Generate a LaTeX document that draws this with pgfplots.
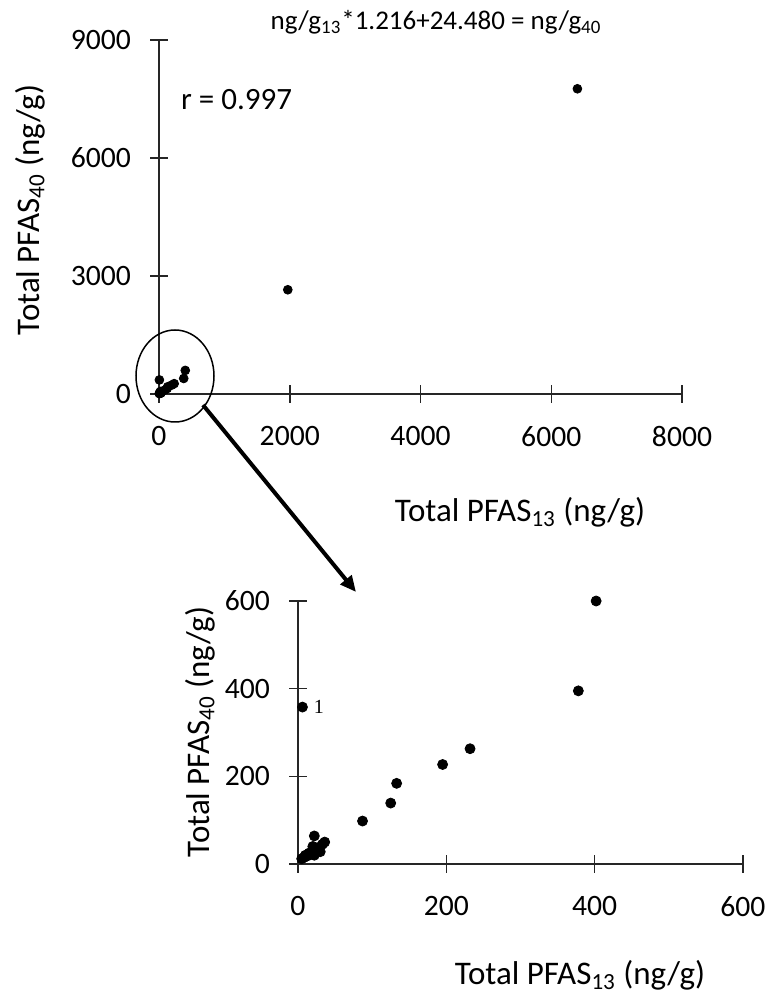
\documentclass[border=0pt]{standalone}
\usepackage{fontspec}
\setmainfont{Carlito}
\newfontfamily\serif{Liberation Serif}
\usepackage{pgfplots}
\pgfplotsset{compat=1.18}
\usetikzlibrary{arrows.meta}

% 1 px of the reference = 0.5pt
\pgfplotsset{
  sc/.style={
    scale only axis, clip=false, enlargelimits=false,
    axis lines=left,
    axis line style={-, draw=black!85, line width=0.75pt},
    tick align=center, major tick length=9pt,
    tick style={draw=black!85, line width=0.75pt},
    tick label style={font=\fontsize{14.8}{16}\selectfont},
    /pgf/number format/assume math mode=true,
    /pgf/number format/1000 sep={},
    xticklabel style={yshift=-8pt},
    yticklabel style={xshift=-6pt},
  }
}

\begin{document}
\begin{tikzpicture}

%% top: full range
\begin{axis}[sc,
  at={(79.5pt,302pt)}, anchor=south west,
  width=261.5pt, height=177pt,
  xmin=0, xmax=8000, ymin=0, ymax=9000,
  xtick={0,2000,4000,6000,8000},
  ytick={0,3000,6000,9000},
]
  \addplot[only marks, mark=*, mark size=2.2pt, black] coordinates {
    (6,358)(402,600)(378,395)(232,263)(195,227)(133,184)(125,139)
    (87,98)(22,64)(5,12)(8,15)(10,20)(12,18)(15,25)(18,22)(20,30)
    (22,20)(25,33)(28,38)(30,28)(33,45)(36,50)(20,40)(26,30)
    (1970,2650)(6400,7760)
  };
\end{axis}

%% bottom: zoom on 0-600
\begin{axis}[sc,
  at={(149pt,67pt)}, anchor=south west,
  width=222.5pt, height=131.5pt,
  xmin=0, xmax=600, ymin=0, ymax=600,
  xtick={0,200,400,600},
  ytick={0,200,400,600},
]
  \addplot[only marks, mark=*, mark size=2.5pt, black] coordinates {
    (6,358)(402,600)(378,395)(232,263)(195,227)(133,184)(125,139)
    (87,98)(22,64)(5,12)(8,15)(10,20)(12,18)(15,25)(18,22)(20,30)
    (22,20)(25,33)(28,38)(30,28)(33,45)(36,50)(20,40)(26,30)
  };
  \node[anchor=west, font=\serif\fontsize{10}{12}\selectfont]
    at (axis cs:12,358) {1};
\end{axis}

%% text
\node[font=\fontsize{13.5}{15}\selectfont] at (218pt,488pt)
  {ng/g\textsubscript{13}*1.216+24.480 = ng/g\textsubscript{40}};
\node[anchor=west, font=\fontsize{15.5}{17}\selectfont] at (87pt,449pt)
  {r = 0.997};
\node[rotate=90, font=\fontsize{16.5}{18}\selectfont] at (15pt,394pt)
  {Total PFAS\textsubscript{40} (ng/g)};
\node[font=\fontsize{16.5}{18}\selectfont] at (260pt,243pt)
  {Total PFAS\textsubscript{13} (ng/g)};
\node[rotate=90, font=\fontsize{16.5}{18}\selectfont] at (100pt,133pt)
  {Total PFAS\textsubscript{40} (ng/g)};
\node[font=\fontsize{16.5}{18}\selectfont] at (290pt,11.5pt)
  {Total PFAS\textsubscript{13} (ng/g)};

%% circle and arrow
\draw[black, line width=0.75pt] (87.5pt,311pt) ellipse [x radius=19.5pt, y radius=23pt];
\draw[black, line width=2pt, -{Triangle[length=8pt, width=7pt]}]
  (101.5pt,296.5pt) -- (178pt,203pt);

\pgfresetboundingbox
\path[use as bounding box] (0,0) rectangle (384.5pt,499pt);
\end{tikzpicture}
\end{document}
